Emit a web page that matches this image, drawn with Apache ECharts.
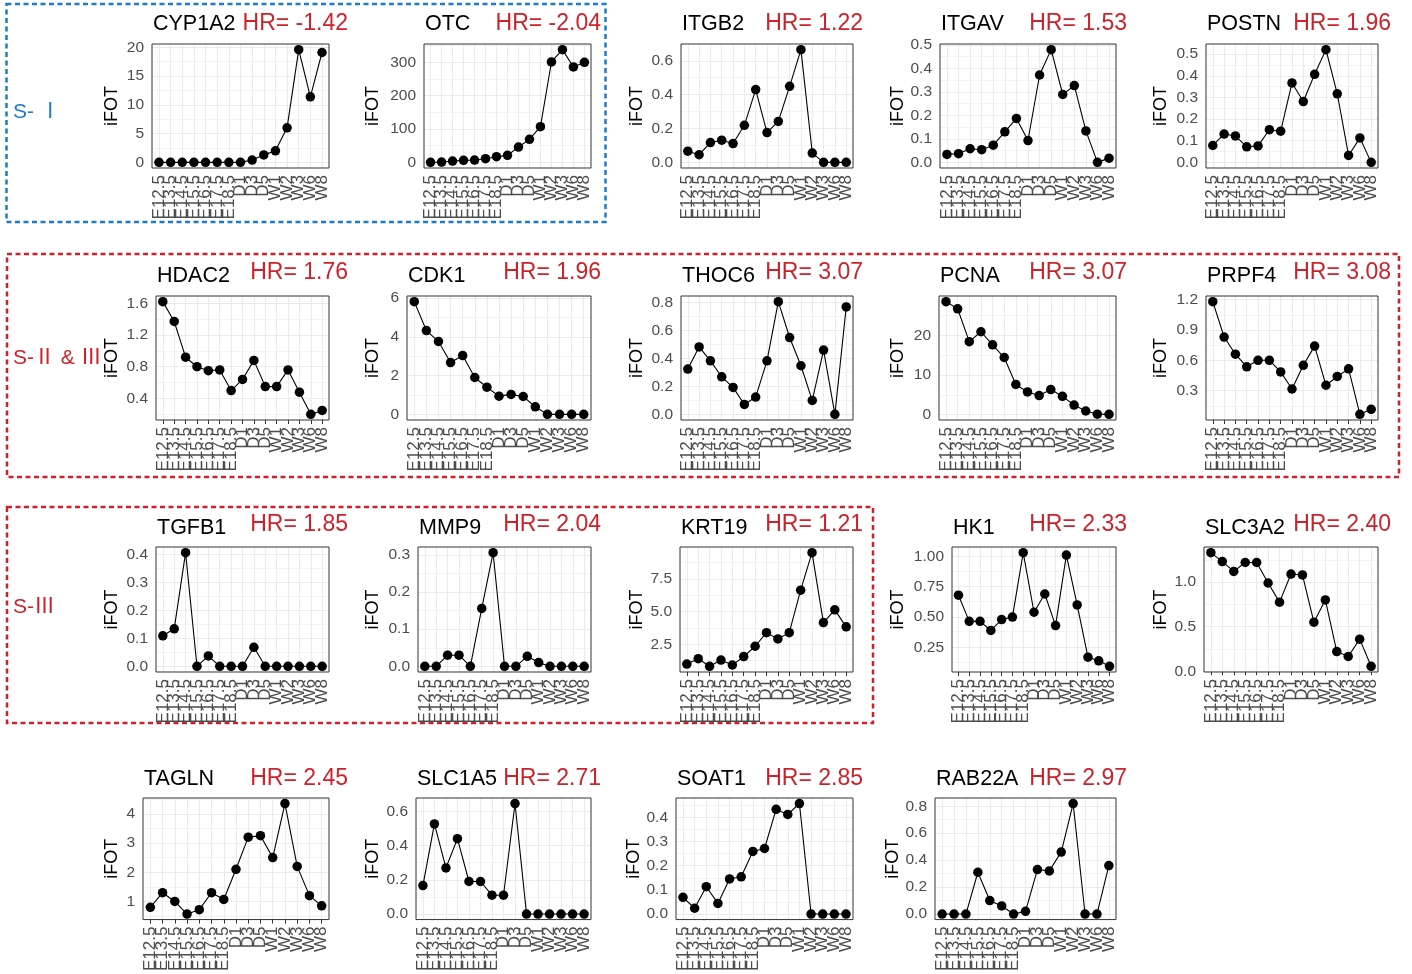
<!DOCTYPE html>
<html><head><meta charset="utf-8">
<script src="https://cdn.jsdelivr.net/npm/echarts@6/dist/echarts.min.js"></script>
<style>html,body{margin:0;padding:0;background:#fff}#c{width:1412px;height:974px}</style>
</head><body><div id="c"></div>
<script>
// ---------- DATA ----------
const categories = ['E12.5','E13.5','E14.5','E15.5','E16.5','E17.5','E18.5','D1','D3','D5','W1','W2','W3','W6','W8'];

const CYP1A2 = [0,0,0,0,0,0,0,0,0.4,1.3,2.0,6.0,19.6,11.4,19.1];
const OTC    = [0,1,4,6,7,11,17,21,46,69,107,301,338,286,300];
const ITGB2  = [0.066,0.045,0.117,0.131,0.111,0.219,0.43,0.176,0.242,0.449,0.666,0.055,0,0,0];
const ITGAV  = [0.034,0.037,0.058,0.054,0.073,0.13,0.187,0.093,0.372,0.48,0.289,0.327,0.134,0,0.018];
const POSTN  = [0.078,0.131,0.122,0.072,0.076,0.151,0.144,0.367,0.281,0.407,0.521,0.317,0.032,0.113,0];
const HDAC2  = [1.62,1.37,0.92,0.80,0.75,0.76,0.50,0.64,0.88,0.55,0.55,0.76,0.48,0.20,0.25];
const CDK1   = [5.81,4.32,3.76,2.67,3.03,1.90,1.40,0.94,1.03,0.92,0.39,0,0,0,0];
const THOC6  = [0.324,0.483,0.383,0.269,0.193,0.071,0.124,0.383,0.807,0.55,0.348,0.1,0.46,0,0.769];
const PCNA   = [28.5,26.7,18.4,20.9,17.6,14.4,7.6,5.7,4.8,6.3,4.6,2.4,0.9,0.1,0.05];
const PRPF4  = [1.18,0.83,0.66,0.535,0.6,0.6,0.485,0.316,0.55,0.74,0.353,0.44,0.515,0.065,0.115];
const TGFB1  = [0.109,0.134,0.406,0,0.037,0,0,0,0.068,0,0,0,0,0,0];
const MMP9   = [0,0,0.03,0.03,0,0.156,0.306,0,0,0.027,0.01,0,0,0,0];
const KRT19  = [0.99,1.4,0.82,1.3,0.92,1.56,2.35,3.39,2.91,3.39,6.63,9.49,4.16,5.13,3.83];
const HK1    = [0.68,0.465,0.465,0.39,0.48,0.5,1.03,0.54,0.69,0.43,1.01,0.6,0.17,0.14,0.095];
const SLC3A2 = [1.33,1.23,1.12,1.22,1.22,0.99,0.775,1.09,1.08,0.55,0.8,0.22,0.165,0.36,0.055];
const TAGLN  = [0.8,1.3,1.0,0.57,0.72,1.3,1.07,2.1,3.2,3.25,2.5,4.35,2.2,1.2,0.85];
const SLC1A5 = [0.166,0.526,0.269,0.44,0.19,0.19,0.11,0.11,0.645,0,0,0,0,0,0];
const SOAT1  = [0.069,0.024,0.113,0.044,0.145,0.154,0.259,0.271,0.433,0.412,0.457,0,0,0,0];
const RAB22A = [0,0,0,0.31,0.1,0.06,0,0.02,0.33,0.32,0.46,0.82,0,0,0.36];

const genes = ['CYP1A2','OTC','ITGB2','ITGAV','POSTN','HDAC2','CDK1','THOC6','PCNA','PRPF4',
               'TGFB1','MMP9','KRT19','HK1','SLC3A2','TAGLN','SLC1A5','SOAT1','RAB22A'];
const geneValues = [CYP1A2,OTC,ITGB2,ITGAV,POSTN,HDAC2,CDK1,THOC6,PCNA,PRPF4,
                    TGFB1,MMP9,KRT19,HK1,SLC3A2,TAGLN,SLC1A5,SOAT1,RAB22A];
const hrLabels = ['HR= -1.42','HR= -2.04','HR= 1.22','HR= 1.53','HR= 1.96',
                  'HR= 1.76','HR= 1.96','HR= 3.07','HR= 3.07','HR= 3.08',
                  'HR= 1.85','HR= 2.04','HR= 1.21','HR= 2.33','HR= 2.40',
                  'HR= 2.45','HR= 2.71','HR= 2.85','HR= 2.97'];
const yTickLabels = [
  ['0','5','10','15','20'], ['0','100','200','300'], ['0.0','0.2','0.4','0.6'],
  ['0.0','0.1','0.2','0.3','0.4','0.5'], ['0.0','0.1','0.2','0.3','0.4','0.5'],
  ['0.4','0.8','1.2','1.6'], ['0','2','4','6'], ['0.0','0.2','0.4','0.6','0.8'],
  ['0','10','20'], ['0.3','0.6','0.9','1.2'],
  ['0.0','0.1','0.2','0.3','0.4'], ['0.0','0.1','0.2','0.3'], ['2.5','5.0','7.5'],
  ['0.25','0.50','0.75','1.00'], ['0.0','0.5','1.0'],
  ['1','2','3','4'], ['0.0','0.2','0.4','0.6'], ['0.0','0.1','0.2','0.3','0.4'],
  ['0.0','0.2','0.4','0.6','0.8']
];
const groupLabels = ['S- Ⅰ','S-Ⅱ & Ⅲ','S-Ⅲ'];

// ---------- LAYOUT ----------
const FONT = '"Liberation Sans", Arial, "Noto Sans CJK SC", sans-serif';
const RED = '#CD2229', BLUE = '#1C7CC8';
const colRight = [329, 591, 853, 1116, 1378];
const colHR = [348, 601, 863, 1127, 1391];
const colYName = [112, 373, 637, 898, 1161];
const rowTop = [44, 296, 547, 798];
const rowBottom = [168, 420, 672, 923];
const rowGeneY = [24, 276, 528, 779];
const rowHRY = [24, 273, 525, 779];
const boxLeft = [152,424,681,940,1206, 156,407,681,939,1206, 156,418,680,952,1204, 143,416,676,935];

const grid = [], xAxis = [], yAxis = [], series = [], graphic = [];
const idx = categories.map((c, i) => i);
const evenIdx = idx.filter(i => i % 2 === 0), oddIdx = idx.filter(i => i % 2 === 1);
const GRIDC = '#EBEBEB';

function xLabelAxis(k, values, showTicks) {
  return {gridIndex: k, type: 'value', min: -0.6, max: 14.6, position: 'bottom',
    axisLine: {show: false}, splitLine: {show: false},
    axisTick: {show: showTicks, length: 4, lineStyle: {color: '#333'}, customValues: idx},
    axisLabel: {customValues: values, rotate: 90, margin: 7, fontSize: 17, color: '#4D4D4D', fontFamily: FONT,
      showMinLabel: true, showMaxLabel: true, hideOverlap: false,
      formatter: v => categories[Math.round(v)]}};
}

genes.forEach((g, k) => {
  const r = Math.floor(k / 5), c = k % 5;
  const left = boxLeft[k], right = colRight[c];
  const vals = geneValues[k];
  const labels = yTickLabels[k];
  const tv = labels.map(Number);
  const dmin = Math.min(...vals), dmax = Math.max(...vals);
  const pad = (dmax - dmin) * 0.05;
  const ymin = dmin - pad, ymax = dmax + pad;
  const step = tv[1] - tv[0];
  const ext = [tv[0] - step, ...tv, tv[tv.length - 1] + step];
  const minors = [];
  for (let i = 0; i < ext.length - 1; i++) {
    const m = (ext[i] + ext[i + 1]) / 2;
    if (m > ymin && m < ymax) minors.push(m);
  }
  grid.push({left, top: rowTop[r], width: right - left, height: rowBottom[r] - rowTop[r],
    show: true, borderColor: '#333', borderWidth: 1, backgroundColor: 'transparent', z: 4});
  const xi = xAxis.length;
  xAxis.push(xLabelAxis(k, evenIdx, true));
  xAxis.push(xLabelAxis(k, oddIdx, false));
  yAxis.push({gridIndex: k, type: 'value', min: ymin, max: ymax,
    name: 'iFOT', nameLocation: 'middle', nameGap: left - colYName[c] - 9,
    nameTextStyle: {fontSize: 18, color: '#000', fontFamily: FONT, lineHeight: 18},
    axisLine: {show: false}, splitLine: {show: false},
    axisTick: {show: true, length: 4, lineStyle: {color: '#333'}, customValues: tv},
    axisLabel: {customValues: tv, margin: 8, fontSize: 15.5, color: '#4D4D4D', fontFamily: FONT,
      showMinLabel: true, showMaxLabel: true, hideOverlap: false,
      formatter: v => { let bi = 0; tv.forEach((t, i) => { if (Math.abs(t - v) < Math.abs(tv[bi] - v)) bi = i; }); return labels[bi]; }}});
  const mlData = [
    ...minors.map(v => ({yAxis: v, lineStyle: {color: GRIDC, width: 0.6, type: 'solid'}})),
    ...tv.map(v => ({yAxis: v, lineStyle: {color: GRIDC, width: 1.1, type: 'solid'}})),
    ...idx.map(i => ({xAxis: i, lineStyle: {color: GRIDC, width: 1.1, type: 'solid'}}))
  ];
  series.push({type: 'line', xAxisIndex: xi, yAxisIndex: k,
    data: vals.map((v, i) => [i, v]),
    symbol: 'circle', symbolSize: 9.5, showSymbol: true,
    itemStyle: {color: '#000'}, lineStyle: {color: '#000', width: 1.1},
    z: 5, silent: true, animation: false,
    markLine: {silent: true, symbol: 'none', z: 1, animation: false, label: {show: false},
      emphasis: {disabled: true}, data: mlData}});
  graphic.push({type: 'text', x: left + 1, y: rowGeneY[r], silent: true,
    style: {text: g, fill: '#000', font: '21.5px ' + FONT, align: 'left', verticalAlign: 'middle', textAlign: 'left', textVerticalAlign: 'middle'}});
  graphic.push({type: 'text', x: colHR[c], y: rowHRY[r], silent: true,
    style: {text: hrLabels[k], fill: RED, font: '23px ' + FONT, align: 'right', verticalAlign: 'middle', textAlign: 'right', textVerticalAlign: 'middle'}});
});

// group labels
[[groupLabels[0], 112, BLUE], [groupLabels[1], 358, RED], [groupLabels[2], 607, RED]].forEach(([t, y, col]) => {
  graphic.push({type: 'text', x: 13, y, silent: true,
    style: {text: t, fill: col, font: '21px ' + FONT, align: 'left', verticalAlign: 'middle', textAlign: 'left', textVerticalAlign: 'middle'}});
});
// dashed boxes
[[6.5, 4, 599, 218, BLUE], [7, 254, 1392, 223, RED], [7, 507, 866, 216, RED]].forEach(([x, y, w, h, col]) => {
  graphic.push({type: 'rect', silent: true, shape: {x, y, width: w, height: h},
    style: {fill: 'none', stroke: col, lineWidth: 2.5, lineDash: [5, 3.5]}});
});

const chart = echarts.init(document.getElementById('c'), null, {renderer: 'canvas'});
chart.setOption({animation: false, backgroundColor: '#fff', grid, xAxis, yAxis, series, graphic});
</script></body></html>
